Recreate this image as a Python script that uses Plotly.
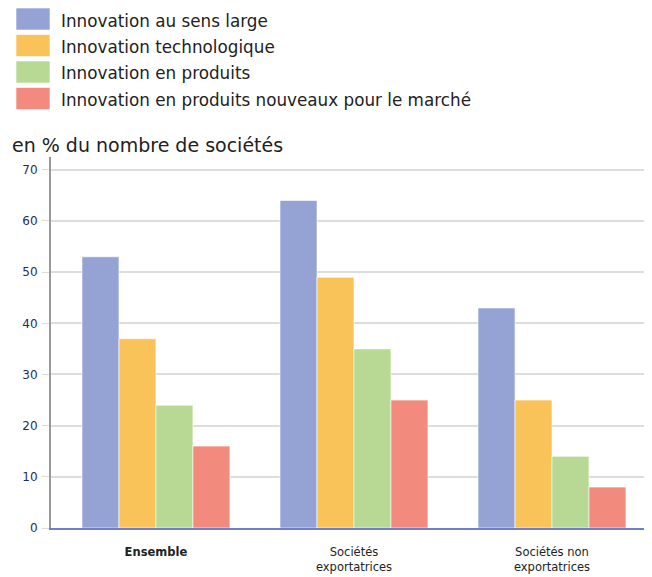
import plotly.graph_objects as go

categories = ["<b>Ensemble</b>", "Sociétés<br>exportatrices", "Sociétés non<br>exportatrices"]
series_names = [
    "Innovation au sens large",
    "Innovation technologique",
    "Innovation en produits",
    "Innovation en produits nouveaux pour le marché",
]
values_large = [53, 64, 43]
values_techno = [37, 49, 25]
values_produits = [24, 35, 14]
values_nouveaux = [16, 25, 8]
colors = ["#94A3D3", "#F9C35A", "#B8D993", "#F28A7D"]
y_ticks = [0, 10, 20, 30, 40, 50, 60, 70]

FONT = "DejaVu Sans"
all_values = [values_large, values_techno, values_produits, values_nouveaux]

# page has an 8px body margin; plot area target (screen): x 51..651, y 157..528
PX0, PY0, PW, PH = 51, 157, 600, 371

def px(x):
    return (x - PX0) / PW

def py(y):
    return 1 + (PY0 - y) / PH

fig = go.Figure()
for name, vals, col in zip(series_names, all_values, colors):
    fig.add_trace(go.Bar(
        x=categories, y=vals, name=name,
        marker=dict(color=col, line=dict(color="rgba(255,255,255,0.6)", width=1)),
        showlegend=False,
    ))

# custom legend (large swatches)
for i, (name, col) in enumerate(zip(series_names, colors)):
    y0 = 8 + i * 26.5
    fig.add_shape(type="rect", xref="paper", yref="paper",
                  x0=px(16), x1=px(50), y0=py(y0), y1=py(y0 + 22),
                  fillcolor=col, line=dict(color="rgba(255,255,255,0.6)", width=1), layer="above")
    fig.add_annotation(xref="paper", yref="paper",
                       x=px(59), y=py(y0 + 12.5),
                       text=name, showarrow=False, xanchor="left", yanchor="middle",
                       font=dict(family=FONT, size=16.8, color="#222222"))

fig.add_annotation(xref="paper", yref="paper", x=px(10), y=py(145),
                   text="en % du nombre de sociétés", showarrow=False,
                   xanchor="left", yanchor="middle",
                   font=dict(family=FONT, size=19, color="#222222"))

fig.update_layout(
    width=644, height=569,
    margin=dict(l=43, r=1, t=149, b=49),
    paper_bgcolor="white", plot_bgcolor="white",
    barmode="group", bargap=0.253, bargroupgap=0,
    font=dict(family=FONT, size=12, color="#222222"),
    xaxis=dict(showline=True, linecolor="#6F7FC8", linewidth=2,
               range=[-0.53, 2.5], automargin=False,
               tickfont=dict(family=FONT, size=11.5, color="#222222"),
               ticks="", showgrid=False, ticklabelstandoff=12),
    yaxis=dict(range=[0, 72.5], tickvals=y_ticks, showline=True, linecolor="#999999",
               linewidth=2, gridcolor="#DDDDDD", gridwidth=1.5, automargin=False,
               ticks="outside", ticklen=7, tickcolor="#DDDDDD", ticklabelstandoff=2,
               tickfont=dict(family=FONT, size=12, color="#1F2D5C"), zeroline=False),
)

fig.write_html("out.html")
